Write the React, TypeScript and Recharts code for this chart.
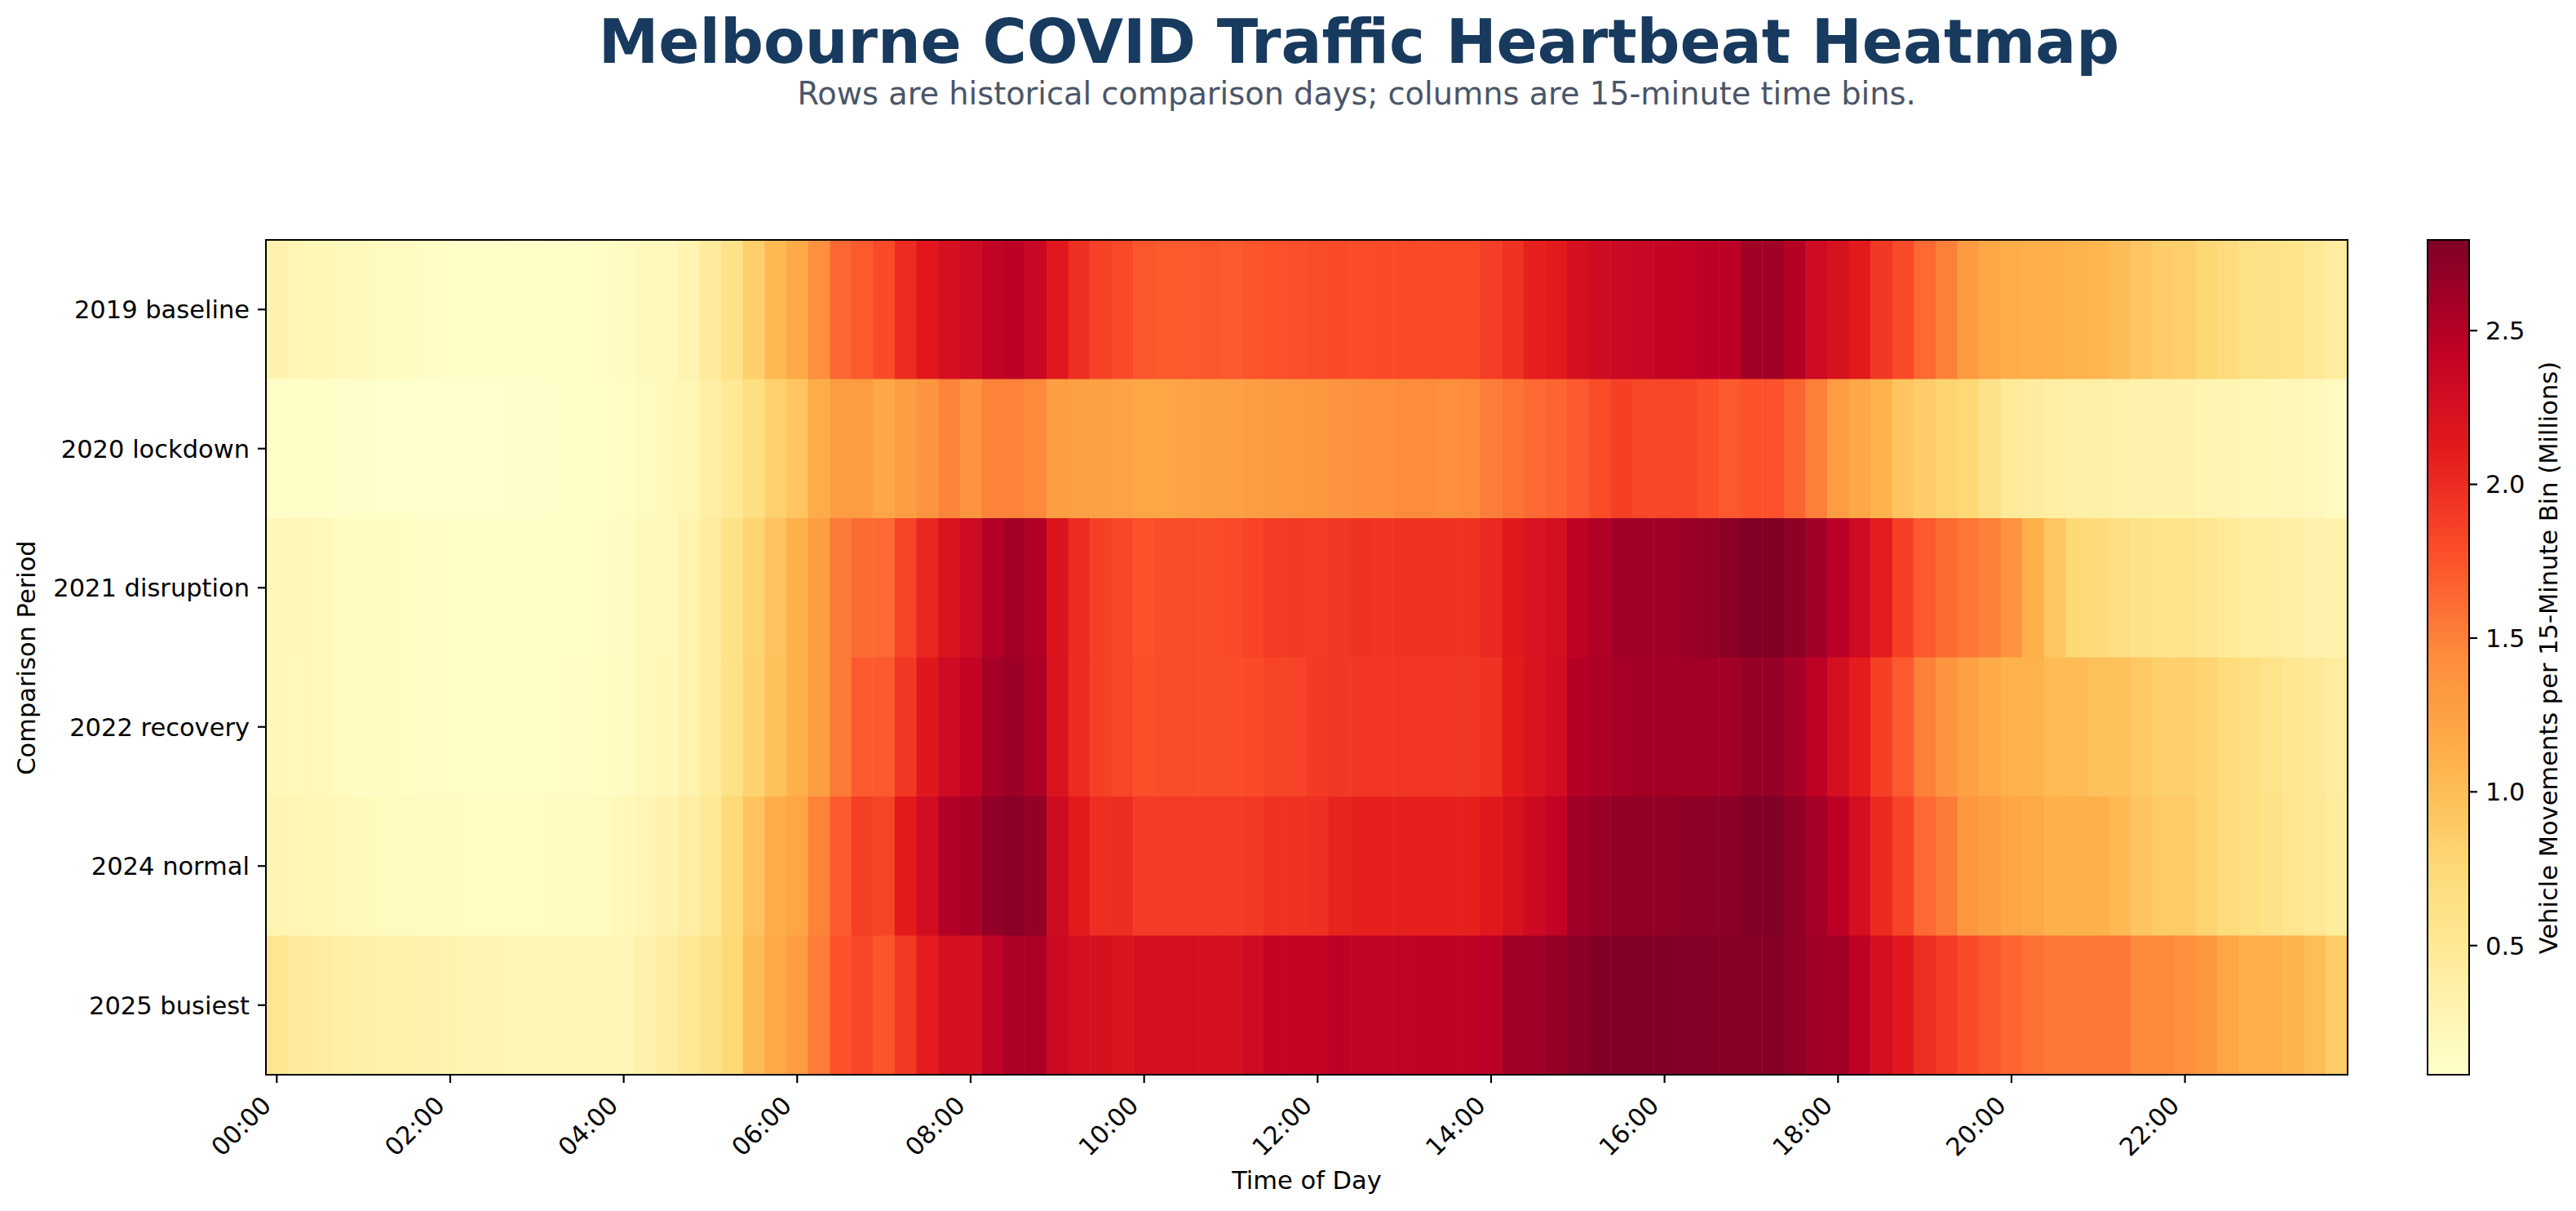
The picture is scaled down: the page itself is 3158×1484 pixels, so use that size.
import React from "react";
import { ScatterChart, Scatter, XAxis, YAxis, BarChart, Bar } from "recharts";

// Comparison days (rows, top to bottom)
const periods = [
  "2019 baseline",
  "2020 lockdown",
  "2021 disruption",
  "2022 recovery",
  "2024 normal",
  "2025 busiest",
];

// Vehicle movements per 15-minute bin, millions (96 bins from 00:00)
const baseline2019 = [
  0.30, 0.26, 0.24, 0.22, 0.19, 0.17, 0.15, 0.13, 0.12, 0.11, 0.11, 0.10, 0.10, 0.11, 0.12, 0.13, 0.15, 0.19, 0.21, 0.28, 0.45, 0.60, 0.85, 1.04,
  1.18, 1.42, 1.64, 1.72, 1.80, 2.00, 2.14, 2.25, 2.30, 2.42, 2.46, 2.37, 2.14, 1.97, 1.86, 1.81, 1.73, 1.72, 1.72, 1.73, 1.72, 1.74, 1.76, 1.77,
  1.79, 1.80, 1.79, 1.80, 1.80, 1.80, 1.81, 1.81, 1.88, 1.96, 2.08, 2.12, 2.23, 2.30, 2.34, 2.37, 2.40, 2.41, 2.46, 2.46, 2.61, 2.61, 2.50, 2.31,
  2.22, 2.12, 1.92, 1.80, 1.63, 1.51, 1.31, 1.20, 1.14, 1.13, 1.12, 1.08, 1.06, 1.01, 0.93, 0.86, 0.85, 0.77, 0.70, 0.62, 0.60, 0.57, 0.50, 0.43,
];

const lockdown2020 = [
  0.12, 0.11, 0.10, 0.09, 0.09, 0.08, 0.08, 0.08, 0.08, 0.08, 0.08, 0.09, 0.09, 0.10, 0.11, 0.12, 0.14, 0.17, 0.21, 0.26, 0.38, 0.50, 0.66, 0.83,
  0.93, 1.15, 1.30, 1.30, 1.20, 1.30, 1.36, 1.48, 1.36, 1.49, 1.49, 1.46, 1.28, 1.27, 1.26, 1.24, 1.22, 1.22, 1.24, 1.26, 1.27, 1.28, 1.31, 1.33,
  1.34, 1.36, 1.40, 1.40, 1.44, 1.44, 1.42, 1.44, 1.52, 1.57, 1.63, 1.66, 1.71, 1.79, 1.87, 1.83, 1.83, 1.83, 1.77, 1.72, 1.76, 1.76, 1.66, 1.51,
  1.30, 1.20, 1.10, 0.93, 0.86, 0.80, 0.76, 0.60, 0.47, 0.43, 0.40, 0.36, 0.36, 0.35, 0.33, 0.33, 0.32, 0.29, 0.28, 0.24, 0.24, 0.23, 0.22, 0.18,
];

const disruption2021 = [
  0.24, 0.23, 0.22, 0.18, 0.16, 0.15, 0.14, 0.13, 0.12, 0.12, 0.11, 0.11, 0.11, 0.12, 0.12, 0.13, 0.15, 0.20, 0.22, 0.31, 0.43, 0.61, 0.80, 0.95,
  1.11, 1.28, 1.54, 1.62, 1.63, 1.85, 2.03, 2.20, 2.31, 2.50, 2.60, 2.53, 2.19, 2.00, 1.87, 1.83, 1.76, 1.79, 1.79, 1.79, 1.80, 1.85, 1.90, 1.91,
  1.90, 1.92, 1.95, 1.94, 1.95, 1.95, 1.95, 1.95, 2.02, 2.13, 2.21, 2.26, 2.43, 2.53, 2.61, 2.61, 2.61, 2.64, 2.68, 2.73, 2.795, 2.79, 2.71, 2.61,
  2.47, 2.31, 2.10, 1.87, 1.71, 1.62, 1.56, 1.50, 1.38, 1.11, 0.92, 0.76, 0.73, 0.68, 0.60, 0.58, 0.57, 0.53, 0.47, 0.42, 0.41, 0.37, 0.33, 0.32,
];

const recovery2022 = [
  0.24, 0.22, 0.21, 0.18, 0.16, 0.15, 0.14, 0.13, 0.12, 0.12, 0.12, 0.12, 0.12, 0.12, 0.13, 0.14, 0.16, 0.20, 0.24, 0.31, 0.44, 0.61, 0.81, 0.96,
  1.11, 1.28, 1.54, 1.71, 1.71, 1.92, 2.15, 2.31, 2.40, 2.59, 2.64, 2.55, 2.20, 2.00, 1.87, 1.83, 1.77, 1.79, 1.79, 1.79, 1.79, 1.80, 1.84, 1.85,
  1.91, 1.92, 1.93, 1.93, 1.93, 1.93, 1.93, 1.93, 1.96, 2.11, 2.20, 2.28, 2.50, 2.54, 2.58, 2.60, 2.60, 2.60, 2.60, 2.60, 2.67, 2.67, 2.59, 2.44,
  2.26, 2.10, 1.87, 1.71, 1.50, 1.36, 1.25, 1.17, 1.10, 1.10, 1.02, 1.02, 0.97, 0.97, 0.90, 0.84, 0.84, 0.79, 0.72, 0.66, 0.59, 0.53, 0.48, 0.43,
];

const normal2024 = [
  0.27, 0.25, 0.24, 0.22, 0.20, 0.18, 0.17, 0.16, 0.15, 0.14, 0.14, 0.14, 0.14, 0.15, 0.16, 0.18, 0.22, 0.25, 0.32, 0.40, 0.50, 0.74, 0.95, 1.14,
  1.22, 1.49, 1.71, 1.88, 1.84, 2.12, 2.28, 2.51, 2.56, 2.70, 2.74, 2.68, 2.30, 2.12, 1.98, 1.99, 1.90, 1.90, 1.90, 1.90, 1.90, 1.91, 1.95, 1.95,
  1.97, 2.05, 2.08, 2.08, 2.08, 2.08, 2.08, 2.08, 2.14, 2.22, 2.32, 2.41, 2.61, 2.65, 2.69, 2.69, 2.69, 2.71, 2.71, 2.74, 2.79, 2.79, 2.70, 2.59,
  2.46, 2.26, 2.01, 1.84, 1.63, 1.54, 1.34, 1.28, 1.22, 1.18, 1.11, 1.11, 1.11, 1.04, 0.94, 0.88, 0.88, 0.80, 0.72, 0.66, 0.60, 0.55, 0.50, 0.44,
];

const busiest2025 = [
  0.55, 0.45, 0.43, 0.38, 0.36, 0.35, 0.34, 0.32, 0.30, 0.28, 0.27, 0.26, 0.25, 0.25, 0.25, 0.25, 0.26, 0.32, 0.41, 0.50, 0.60, 0.75, 1.02, 1.18,
  1.30, 1.53, 1.76, 1.83, 1.74, 1.91, 2.10, 2.24, 2.24, 2.42, 2.55, 2.55, 2.34, 2.26, 2.24, 2.20, 2.25, 2.25, 2.25, 2.25, 2.25, 2.31, 2.40, 2.40,
  2.40, 2.45, 2.42, 2.42, 2.42, 2.43, 2.43, 2.43, 2.47, 2.61, 2.63, 2.67, 2.74, 2.79, 2.795, 2.79, 2.79, 2.78, 2.78, 2.76, 2.76, 2.76, 2.70, 2.61,
  2.60, 2.44, 2.26, 2.14, 1.98, 1.90, 1.80, 1.73, 1.66, 1.60, 1.55, 1.55, 1.55, 1.55, 1.45, 1.45, 1.42, 1.34, 1.22, 1.13, 1.13, 1.08, 1.00, 0.86,
];

const rows = [baseline2019, lockdown2020, disruption2021, recovery2022, normal2024, busiest2025];

// x ticks every two hours, in bin units
const timeTicks = [0, 8, 16, 24, 32, 40, 48, 56, 64, 72, 80, 88];
const colorbarTicks = [0.5, 1.0, 1.5, 2.0, 2.5];

// matplotlib YlOrRd anchor colours
const ylOrRd = ["#ffffcc", "#ffeda0", "#fed976", "#feb24c", "#fd8d3c", "#fc4e2a", "#e31a1c", "#bd0026", "#800026"];

const allValues = rows.flat();
const vMin = Math.min(...allValues);
const vMax = Math.max(...allValues);

const W = 3158;
const H = 1484;
const PLOT_LEFT = 326;
const PLOT_RIGHT = 2878;
const PLOT_TOP = 294;
const PLOT_BOTTOM = 1317;
const CB_LEFT = 2976;
const CB_RIGHT = 3027;
const CELL_W = (PLOT_RIGHT - PLOT_LEFT) / 96;
const CELL_H = (PLOT_BOTTOM - PLOT_TOP) / rows.length;
const FONT = "'DejaVu Sans', sans-serif";
const LABEL_SIZE = 30.5;
const SPINE = 2.2;

const rgbStops = ylOrRd.map((h) => [1, 3, 5].map((i) => parseInt(h.slice(i, i + 2), 16)));

const colorFor = (v: number) => {
  const t = Math.min(1, Math.max(0, (v - vMin) / (vMax - vMin)));
  const pos = t * (rgbStops.length - 1);
  const i = Math.min(rgbStops.length - 2, Math.floor(pos));
  const f = pos - i;
  const c = rgbStops[i].map((a, k) => Math.round(a + (rgbStops[i + 1][k] - a) * f));
  return `rgb(${c.join(",")})`;
};

const binLabel = (bin: number) => {
  const mins = bin * 15;
  const hh = String(Math.floor(mins / 60)).padStart(2, "0");
  const mm = String(mins % 60).padStart(2, "0");
  return `${hh}:${mm}`;
};

const cells = rows.flatMap((vals, row) => vals.map((value, bin) => ({ bin, row, value })));

const colorbarData = [{ name: "scale", range: [vMin, vMax] }];

const HeatCell = (props: any) => {
  const { cx, cy, payload } = props;
  return (
    <rect
      x={cx - CELL_W / 2}
      y={cy - CELL_H / 2}
      width={CELL_W + 0.5}
      height={CELL_H + 0.5}
      fill={colorFor(payload.value)}
    />
  );
};

// rotated 45deg, right end of the label sits under its tick
const TimeTick = (props: any) => {
  const { x, payload } = props;
  return (
    <g transform={`translate(${x - 5.1},${PLOT_BOTTOM + 39.4})`}>
      <text textAnchor="end" transform="rotate(-45)" fontSize={LABEL_SIZE} fill="#000" fontFamily={FONT}>
        {binLabel(payload.value)}
      </text>
    </g>
  );
};

const tickStroke = { stroke: "#000", strokeWidth: SPINE };

const frameStyle = (left: number, top: number, right: number, bottom: number): React.CSSProperties => ({
  position: "absolute",
  left: left - SPINE / 2,
  top: top - SPINE / 2,
  width: right - left + SPINE,
  height: bottom - top + SPINE,
  border: `${SPINE}px solid #000`,
  boxSizing: "border-box",
  pointerEvents: "none",
});

const labelStyle = (left: number, top: number, rotate: boolean): React.CSSProperties => ({
  position: "absolute",
  left,
  top,
  transform: rotate ? "translate(-50%, -50%) rotate(-90deg)" : "translate(-50%, -50%)",
  whiteSpace: "nowrap",
  fontSize: LABEL_SIZE,
  lineHeight: 1,
  color: "#000",
});

export default function App() {
  const midY = (PLOT_TOP + PLOT_BOTTOM) / 2;
  return (
    <div
      style={{
        position: "absolute",
        left: 0,
        top: 0,
        width: W,
        height: H,
        background: "#fff",
        fontFamily: FONT,
        overflow: "hidden",
      }}
    >
      <div
        style={{
          position: "absolute",
          left: 1666,
          top: 14,
          transform: "translateX(-50%)",
          whiteSpace: "nowrap",
          fontSize: 74,
          lineHeight: 1,
          fontWeight: "bold",
          color: "#173a5e",
        }}
      >
        Melbourne COVID Traffic Heartbeat Heatmap
      </div>
      <div
        style={{
          position: "absolute",
          left: 1663,
          top: 96,
          transform: "translateX(-50%)",
          whiteSpace: "nowrap",
          fontSize: 38.3,
          lineHeight: 1,
          color: "#4a5568",
        }}
      >
        Rows are historical comparison days; columns are 15-minute time bins.
      </div>

      <div style={{ position: "absolute", left: 0, top: 0 }}>
        <ScatterChart
          width={W}
          height={H}
          margin={{ top: PLOT_TOP, right: W - PLOT_RIGHT, bottom: H - PLOT_BOTTOM - 100, left: PLOT_LEFT - 300 }}
        >
          <XAxis
            type="number"
            dataKey="bin"
            domain={[-0.5, 95.5]}
            allowDataOverflow
            ticks={timeTicks}
            interval={0}
            height={100}
            tickSize={10}
            stroke="#000"
            tick={<TimeTick />}
            axisLine={false}
            tickLine={tickStroke}
          />
          <YAxis
            type="number"
            dataKey="row"
            domain={[-0.5, 5.5]}
            allowDataOverflow
            reversed
            ticks={[0, 1, 2, 3, 4, 5]}
            interval={0}
            width={300}
            tickSize={10}
            tickMargin={10}
            stroke="#000"
            tickFormatter={(r: number) => periods[r]}
            tick={{ fontSize: LABEL_SIZE, fill: "#000" }}
            axisLine={false}
            tickLine={tickStroke}
          />
          <Scatter data={cells} shape={<HeatCell />} isAnimationActive={false} />
        </ScatterChart>
      </div>
      <div style={frameStyle(PLOT_LEFT, PLOT_TOP, PLOT_RIGHT, PLOT_BOTTOM)} />

      <div style={{ position: "absolute", left: 2900, top: 0 }}>
        <BarChart
          width={258}
          height={H}
          data={colorbarData}
          margin={{ top: PLOT_TOP, right: 258 - (CB_RIGHT - 2900) - 100, bottom: H - PLOT_BOTTOM, left: CB_LEFT - 2900 }}
          barCategoryGap={0}
        >
          <defs>
            <linearGradient id="ylOrRdScale" x1="0" y1="1" x2="0" y2="0">
              {ylOrRd.map((c, i) => (
                <stop key={c} offset={`${(i / (ylOrRd.length - 1)) * 100}%`} stopColor={c} />
              ))}
            </linearGradient>
          </defs>
          <XAxis dataKey="name" hide />
          <YAxis
            orientation="right"
            type="number"
            domain={[vMin, vMax]}
            allowDataOverflow
            ticks={colorbarTicks}
            interval={0}
            width={100}
            tickSize={10}
            tickMargin={10}
            stroke="#000"
            tickFormatter={(v: number) => v.toFixed(1)}
            tick={{ fontSize: LABEL_SIZE, fill: "#000" }}
            axisLine={false}
            tickLine={tickStroke}
          />
          <Bar dataKey="range" fill="url(#ylOrRdScale)" isAnimationActive={false} />
        </BarChart>
      </div>
      <div style={frameStyle(CB_LEFT, PLOT_TOP, CB_RIGHT, PLOT_BOTTOM)} />

      <div style={labelStyle((PLOT_LEFT + PLOT_RIGHT) / 2, 1447, false)}>Time of Day</div>
      <div style={labelStyle(33, midY, true)}>Comparison Period</div>
      <div style={labelStyle(3125, midY, true)}>Vehicle Movements per 15-Minute Bin (Millions)</div>
    </div>
  );
}
